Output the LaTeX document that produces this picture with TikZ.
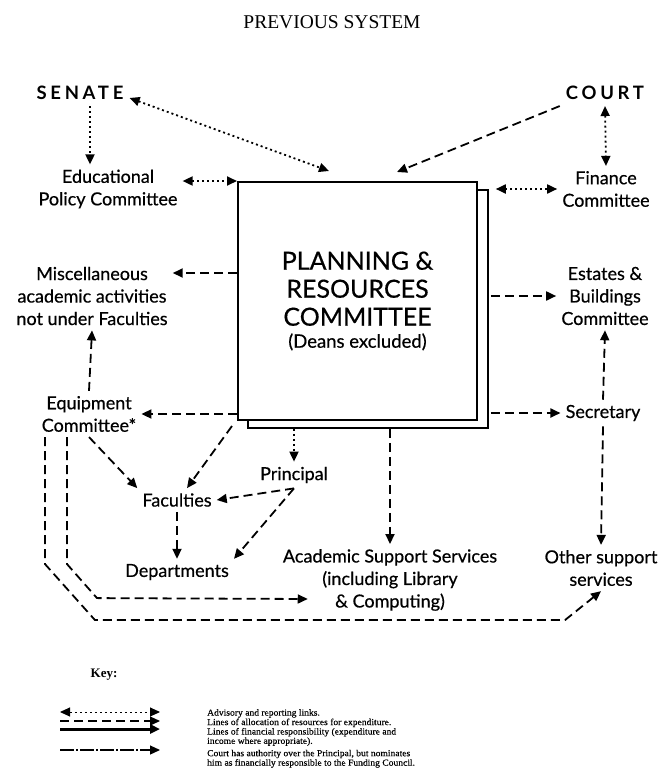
\documentclass[tikz,border=0pt]{standalone}
\usepackage{fontspec}
\setmainfont{Liberation Serif}
\newfontfamily\gill[FakeBold=0.5]{Lato}
\newfontfamily\gillwide[LetterSpace=20]{Lato}
\newfontfamily\keyfont[FakeStretch=1.04,FakeBold=0.3]{Liberation Serif}
\usetikzlibrary{arrows.meta}

\begin{document}
\begin{tikzpicture}[x=1pt,y=-1pt,>={Triangle[length=10pt,width=9pt]},
unit/.style={font=\gill\fontsize{18}{22.5}\selectfont,align=center,inner sep=5pt},
body/.style={font=\gillwide\bfseries\fontsize{18.5}{20}\selectfont,inner sep=6pt},
advise/.style={<->,line width=1.8pt,dash pattern=on 2pt off 3pt},
report/.style={->,line width=1.8pt,dash pattern=on 2pt off 3pt},
alloc/.style={->,line width=1.8pt,dash pattern=on 9pt off 5pt},
finance/.style={->},
authority/.style={->,dash pattern=on 14pt off 2pt on 2pt off 2pt}]
\useasboundingbox (0,0) rectangle (664,777);
\node[font=\fontsize{19.5}{22}\selectfont] (title) at (332,22) {PREVIOUS SYSTEM};
\node[body] (senate) at (80,93) {SENATE};
\node[body] (court) at (605,93) {COURT};
\node[unit] (edu) at (108,189) {Educational\\Policy Committee};
\node[unit] (fin) at (606,189) {Finance\\Committee};
\node[unit] (misc) at (92,296) {Miscellaneous\\academic activities\\not under Faculties};
\node[unit] (estates) at (605,296) {Estates \&\\Buildings\\Committee};
\node[unit] (equip) at (89,414) {Equipment\\Committee*};
\node[unit] (secretary) at (603,413) {Secretary};
\node[unit] (principal) at (294,475) {Principal};
\node[unit] (faculties) at (177,500) {Faculties};
\node[unit] (departments) at (177,572) {Departments};
\node[unit] (acad) at (390,580) {Academic Support Services\\(including Library\\\& Computing)};
\node[unit] (other) at (601,568) {Other support\\services};
\node[draw,line width=1.6pt,fill=white,minimum width=240pt,minimum height=238pt] (prcback) at (368,309) {};
\node[draw,line width=2pt,fill=white,minimum width=239pt,minimum height=238pt,align=center,
  font=\gill\fontsize{25}{28}\selectfont] (prc) at (357.5,301)
  {PLANNING \&\\RESOURCES\\COMMITTEE\\[-6pt]{\fontsize{18.5}{20}\selectfont(Deans excluded)}};
\draw[advise] ([yshift=-5pt]senate.east) -- ([xshift=92pt,yshift=10pt]prc.north west);
\draw[report] ([xshift=10pt]senate.south) -- ([xshift=10pt]senate.south |- edu.north);
\draw[advise] ([yshift=8pt]edu.east) -- ([yshift=8pt]edu.east -| prc.west);
\draw[alloc] (court.south west) -- ([xshift=160pt,yshift=9pt]prc.north west);
\draw[advise] (court.south) -- (fin.north);
\draw[advise] ([xshift=7pt]prcback.east |- fin.west) -- (fin.west);
\draw[alloc] ([yshift=23pt]prc.west |- misc.east) -- ([yshift=23pt]misc.east);
\draw[alloc] ([xshift=2pt]prcback.east |- estates.west) -- (estates.west);
\draw[alloc] (equip.north) -- (misc.south);
\draw[alloc] (prc.west |- equip.east) -- (equip.east);
\draw[alloc] ([xshift=2pt]prcback.east |- secretary.west) -- (secretary.west);
\draw[alloc] (secretary.north) -- (estates.south);
\draw[alloc] (secretary.south) -- (other.north);
\draw[report] (principal.north |- prcback.south) -- (principal.north);
\draw[alloc] ([xshift=-5pt,yshift=-5pt]prc.south west) -- ([xshift=10pt]faculties.north);
\draw[alloc] (equip.south) -- (faculties.north west);
\draw[alloc] (principal.south) -- (faculties.east);
\draw[alloc] (principal.south) -- (departments.north east);
\draw[alloc] (faculties.south) -- (departments.north);
\draw[alloc] (acad.north |- prcback.south) -- (acad.north);
\draw[alloc] ([xshift=-22pt]equip.south) -- ++(0,127) -- ++(30,34) -- ([xshift=30pt,yshift=-19pt]acad.west);
\draw[alloc] ([xshift=-44pt]equip.south) -- ++(0,127) -- ++(50,56) -- ++(470,0) -- (other.south);
\node[font=\bfseries\fontsize{13}{14}\selectfont] (key) at (104,675) {Key:};
\foreach \s/\w/\y [count=\i] in {advise/1/712,alloc/1.2/721,finance/3/729,authority/1.2/750}
{\coordinate (key\i w) at (60,\y);
\coordinate (key\i e) at (160,\y);
\draw[\s,line width=\w pt] (key\i w) -- (key\i e);}
\node[anchor=north west,align=left,inner sep=0pt,font=\keyfont\fontsize{9.2}{8}\selectfont] (legend) at (207,709)
  {Advisory and reporting links.\\Lines of allocation of resources for expenditure.\\
   Lines of financial responsibility (expenditure and\\income where appropriate).\\[3pt]
   Court has authority over the Principal, but nominates\\him as financially responsible to the Funding Council.};
\end{tikzpicture}
\end{document}
